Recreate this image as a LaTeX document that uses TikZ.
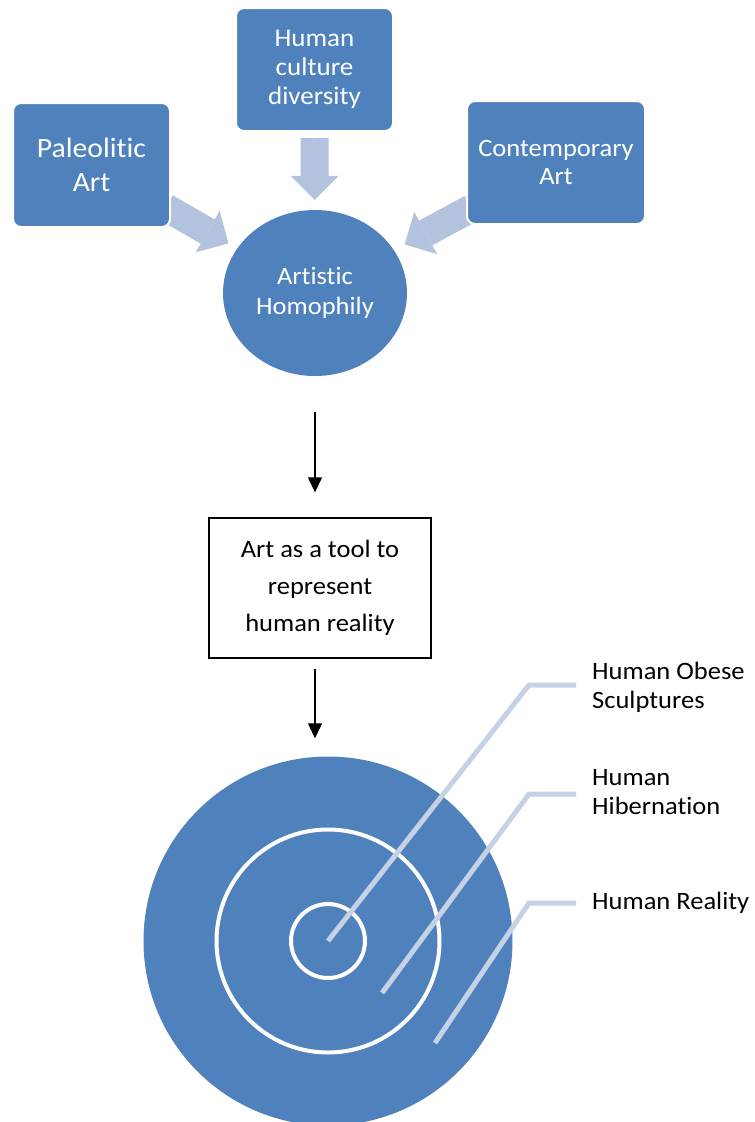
\documentclass[tikz,border=0pt]{standalone}
\usepackage{fontspec}
\setmainfont{Carlito}[Ligatures=NoCommon, FakeStretch=1.06]
\usepackage{tikz}
\usetikzlibrary{arrows.meta, positioning, shapes.geometric}

\definecolor{boxblue}{HTML}{4F81BD}
\definecolor{fatblue}{HTML}{B3C3DD}
\definecolor{leadblue}{HTML}{C5D1E4}

\pgfdeclarelayer{background}
\pgfsetlayers{background,main}

\tikzset{
    bluebox/.style={rectangle, rounded corners=8pt, fill=boxblue, draw=white,
                    line width=2pt, text=white, align=center, inner sep=0pt},
    fatarrow/.style={draw=fatblue, line width=28pt,
                     -{Triangle[width=48pt, length=24pt, line width=0pt]}},
    thinarrow/.style={line width=1.2pt, -{Triangle[width=14pt, length=15pt]}},
    leader/.style={draw=leadblue, line width=5pt},
    sidetext/.style={anchor=west, align=left, inner sep=0pt,
                     font=\fontsize{25}{29}\selectfont},
}

\begin{document}
\begin{tikzpicture}[x=1pt, y=-1pt]
        \useasboundingbox (0,0) rectangle (755,1122);

        % Draw the sources
        \node[bluebox, minimum width=157pt, minimum height=124pt,
              font=\fontsize{28}{33.5}\selectfont] at (91.5, 165)   (paleo)   {Paleolitic\\Art};
        \node[bluebox, minimum width=157pt, minimum height=123pt,
              font=\fontsize{25.5}{29}\selectfont] at (314.5, 69.5) (culture) {Human\\culture\\diversity};
        \node[bluebox, minimum width=178pt, minimum height=123pt,
              font=\fontsize{25}{28}\selectfont]   at (556, 162.5)  (contemp) {Contemporary\\Art};
        \node[ellipse, fill=boxblue, text=white, align=center, inner sep=0pt,
              minimum width=184pt, minimum height=166pt,
              font=\fontsize{25}{30}\selectfont]   at (315, 293)    (homophily) {Artistic\\Homophily};

        % Connect the sources with fat arrows
        \begin{pgfonlayer}{background}
        \draw[fatarrow, shorten <=6pt,  shorten >=10pt] (culture) -- (homophily);
        \draw[fatarrow, shorten <=-6pt, shorten >=10pt] (paleo)   -- (homophily);
        \draw[fatarrow, shorten <=-6pt, shorten >=12pt] (contemp) -- (homophily);
        \end{pgfonlayer}

        % Draw the tool box
        \node[draw, line width=1.3pt, minimum width=222pt, minimum height=140pt,
              align=center, inner sep=0pt,
              font=\fontsize{25}{37}\selectfont] at (320, 588) (toolbox) {Art as a tool to\\represent\\human reality};

        % Draw the rings
        \node[circle, fill=boxblue, inner sep=0pt, minimum size=369pt]            at (328, 941) (reality) {};
        \node[circle, draw=white, line width=4pt, inner sep=0pt, minimum size=223pt] at (328, 941) (hibernation) {};
        \node[circle, draw=white, line width=4pt, inner sep=0pt, minimum size=74pt]  at (328, 941) (obese) {};

        \draw[thinarrow, shorten <=36pt, shorten >=25pt] (homophily.south) -- (homophily.south |- toolbox.north);
        \draw[thinarrow, shorten <=10pt, shorten >=18pt] (homophily.south |- toolbox.south) -- (homophily.south |- reality.north);

        % Labels of the rings
        \node[sidetext] at (592, 687)   (obeselbl)   {Human Obese\\Sculptures};
        \node[sidetext] at (592, 792.5) (hiberlbl)   {Human\\Hibernation};
        \node[sidetext] at (592, 902.5) (realitylbl) {Human Reality};

        \coordinate (hiberfoot)   at (382, 993);
        \coordinate (realityfoot) at (435, 1043);
        \coordinate (obesebend)   at (529, 685);
        \coordinate (hiberbend)   at (529, 794);
        \coordinate (realitybend) at (529, 903);

        \draw[leader] (obese.center) -- (obesebend)   -- (obesebend -| obeselbl.west)     [shorten >=16pt];
        \draw[leader] (hiberfoot)    -- (hiberbend)   -- (hiberbend -| hiberlbl.west)     [shorten >=16pt];
        \draw[leader] (realityfoot)  -- (realitybend) -- (realitybend -| realitylbl.west) [shorten >=16pt];
\end{tikzpicture}
\end{document}
